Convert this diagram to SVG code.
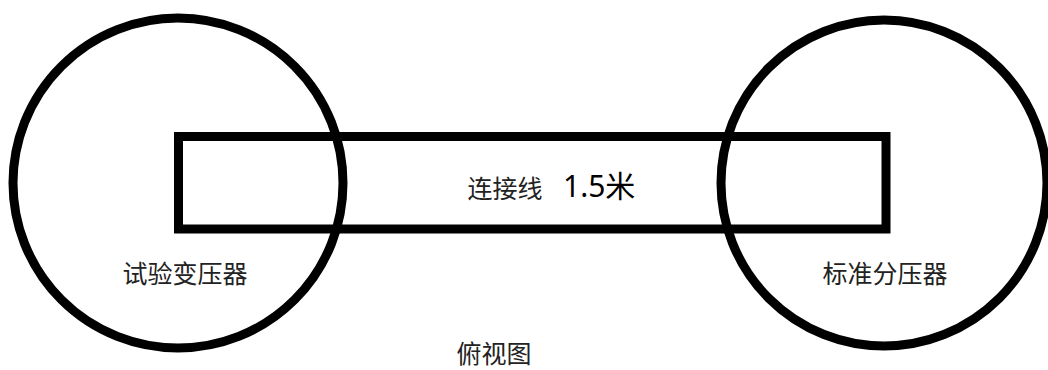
<svg xmlns="http://www.w3.org/2000/svg" width="1048" height="370" viewBox="0 0 1048 370">
<style>
.shape{fill:none;stroke:#000;stroke-width:9}
.lbl{font-family:"Microsoft YaHei","Noto Sans","Noto Sans CJK SC",sans-serif;font-size:25px;fill:#222;text-anchor:middle}
.num{font-family:"Noto Sans","Noto Sans CJK SC",sans-serif;font-size:30px;fill:#000}
</style>
<rect width="1048" height="370" fill="#fff"/>
<g id="test-transformer">
<circle class="shape" cx="178" cy="183" r="165"/>
<text class="lbl" x="185" y="283">试验变压器</text>
</g>
<g id="standard-divider">
<circle class="shape" cx="884" cy="183" r="163"/>
<text class="lbl" x="885" y="283">标准分压器</text>
</g>
<g id="connection-line">
<rect class="shape" x="178.5" y="136.5" width="707.5" height="92.5" stroke-width="8.5"/>
<text class="lbl" x="505" y="198">连接线</text>
<text class="num" x="563" y="197">1.5米</text>
</g>
<g id="connectors"></g>
<g id="caption">
<text class="lbl" x="494" y="363">俯视图</text>
</g>
</svg>
